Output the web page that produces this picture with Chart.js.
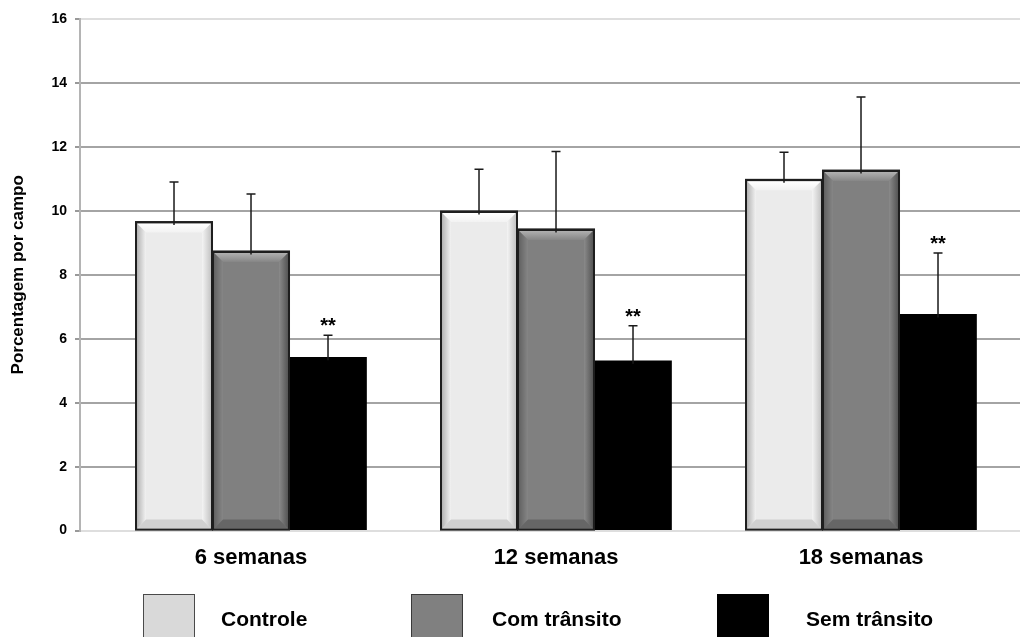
<!DOCTYPE html>
<html>
<head>
<meta charset="utf-8">
<script src="https://cdn.jsdelivr.net/npm/chart.js@4"></script>
<style>
  html, body { margin: 0; padding: 0; background: #fff; }
  #wrap { width: 1020px; height: 637px; }
</style>
</head>
<body>
<div id="wrap"><canvas id="barChart"></canvas></div>
<script>
// data
const categories = ['6 semanas', '12 semanas', '18 semanas'];
const controle = [9.65, 9.98, 10.97];
const controleErr = [1.25, 1.32, 0.86];
const comTransito = [8.73, 9.42, 11.26];
const comTransitoErr = [1.80, 2.44, 2.30];
const semTransito = [5.42, 5.31, 6.76];
const semTransitoErr = [0.69, 1.10, 1.92];
const semTransitoSig = ['**', '**', '**'];
const yTicks = [0, 2, 4, 6, 8, 10, 12, 14, 16];

const FONT = 'Arial, "Liberation Sans", sans-serif';

// bevel shades per series: [top, leftOuter, leftInner, rightInner, rightOuter, bottom]
const bevels = [
  ['#ffffff', '#b4b4b4', '#f2f2f2', '#f4f4f4', '#c4c4c4', '#d0d0d0'],
  ['#b0b0b0', '#626262', '#868686', '#8a8a8a', '#555555', '#666666'],
  null
];

const toPoints = arr => arr.map((v, i) => ({ x: i + 1, y: v }));

const bevelPlugin = {
  id: 'bevelPlugin',
  afterDatasetsDraw(chart) {
    const ctx = chart.ctx;
    chart.data.datasets.forEach((ds, di) => {
      const shade = bevels[di];
      if (!shade) return;
      chart.getDatasetMeta(di).data.forEach(bar => {
        const p = bar.getProps(['x', 'y', 'base', 'width'], true);
        const x0 = p.x - p.width / 2 + 1.5, x1 = p.x + p.width / 2 - 1.5;
        const top = p.y + 1.5, bot = p.base - 1;
        const b = 9;
        ctx.save();
        // top
        let g = ctx.createLinearGradient(0, top, 0, top + b);
        g.addColorStop(0, shade[0]); g.addColorStop(1, shade[2]);
        ctx.fillStyle = g;
        ctx.beginPath();
        ctx.moveTo(x0, top); ctx.lineTo(x1, top); ctx.lineTo(x1 - b, top + b); ctx.lineTo(x0 + b, top + b);
        ctx.closePath(); ctx.fill();
        // left
        g = ctx.createLinearGradient(x0, 0, x0 + b, 0);
        g.addColorStop(0, shade[1]); g.addColorStop(1, shade[2]);
        ctx.fillStyle = g;
        ctx.beginPath();
        ctx.moveTo(x0, top); ctx.lineTo(x0 + b, top + b); ctx.lineTo(x0 + b, bot - b); ctx.lineTo(x0, bot);
        ctx.closePath(); ctx.fill();
        // right
        g = ctx.createLinearGradient(x1 - b, 0, x1, 0);
        g.addColorStop(0, shade[3]); g.addColorStop(1, shade[4]);
        ctx.fillStyle = g;
        ctx.beginPath();
        ctx.moveTo(x1, top); ctx.lineTo(x1 - b, top + b); ctx.lineTo(x1 - b, bot - b); ctx.lineTo(x1, bot);
        ctx.closePath(); ctx.fill();
        // bottom
        ctx.fillStyle = shade[5];
        ctx.beginPath();
        ctx.moveTo(x0, bot); ctx.lineTo(x0 + b, bot - b); ctx.lineTo(x1 - b, bot - b); ctx.lineTo(x1, bot);
        ctx.closePath(); ctx.fill();
        // border again on top of the bevel
        ctx.strokeStyle = '#1e1e1e';
        ctx.lineWidth = 2;
        ctx.strokeRect(p.x - p.width / 2 + 0.5, p.y, p.width - 1, p.base - p.y);
        ctx.restore();
      });
    });
  }
};

const errorBarPlugin = {
  id: 'errorBarPlugin',
  afterDatasetsDraw(chart) {
    const ctx = chart.ctx;
    const yScale = chart.scales.y;
    chart.data.datasets.forEach((ds, di) => {
      const meta = chart.getDatasetMeta(di);
      meta.data.forEach((bar, i) => {
        const p = bar.getProps(['x', 'y'], true);
        const val = ds.data[i].y;
        const yTop = yScale.getPixelForValue(val + ds.errors[i]);
        ctx.save();
        ctx.strokeStyle = '#1a1a1a';
        ctx.lineWidth = 1.5;
        ctx.beginPath();
        ctx.moveTo(p.x, p.y + 3);
        ctx.lineTo(p.x, yTop);
        ctx.moveTo(p.x - 4.5, yTop);
        ctx.lineTo(p.x + 4.5, yTop);
        ctx.stroke();
        if (ds.sig && ds.sig[i]) {
          ctx.fillStyle = '#000';
          ctx.font = 'bold 20px ' + FONT;
          ctx.textAlign = 'center';
          ctx.textBaseline = 'alphabetic';
          ctx.fillText(ds.sig[i], p.x, yTop - 3);
        }
        ctx.restore();
      });
    });
  }
};

const bottomLegend = {
  id: 'bottomLegend',
  afterDraw(chart) {
    const ctx = chart.ctx;
    const boxX = [143, 411, 717];
    const textX = [221, 492, 806];
    const boxFill = ['#d9d9d9', '#808080', '#000000'];
    const boxLine = ['#4a4a4a', '#3a3a3a', '#000000'];
    ctx.save();
    chart.data.datasets.forEach((ds, i) => {
      ctx.fillStyle = boxFill[i];
      ctx.fillRect(boxX[i], 594, 52, 50);
      ctx.strokeStyle = boxLine[i];
      ctx.lineWidth = 1;
      ctx.strokeRect(boxX[i] + 0.5, 594.5, 51, 50);
      ctx.fillStyle = '#000';
      ctx.font = 'bold 21px ' + FONT;
      ctx.textAlign = 'left';
      ctx.textBaseline = 'middle';
      ctx.fillText(ds.label, textX[i], 620);
    });
    ctx.restore();
  }
};

const ctx = document.getElementById('barChart').getContext('2d');
new Chart(ctx, {
  type: 'bar',
  data: {
    datasets: [
      {
        label: 'Controle',
        data: toPoints(controle),
        errors: controleErr,
        backgroundColor: '#ebebeb',
        borderColor: '#1e1e1e',
        borderWidth: 2
      },
      {
        label: 'Com trânsito',
        data: toPoints(comTransito),
        errors: comTransitoErr,
        backgroundColor: '#808080',
        borderColor: '#1e1e1e',
        borderWidth: 2
      },
      {
        label: 'Sem trânsito',
        data: toPoints(semTransito),
        errors: semTransitoErr,
        sig: semTransitoSig,
        backgroundColor: '#000000',
        borderColor: '#000000',
        borderWidth: 0
      }
    ]
  },
  options: {
    responsive: true,
    maintainAspectRatio: false,
    animation: false,
    barThickness: 77,
    layout: {
      padding: { top: 19, right: 0, bottom: 52, left: 0 }
    },
    plugins: {
      legend: { display: false },
      tooltip: { enabled: false }
    },
    scales: {
      x: {
        type: 'linear',
        offset: false,
        min: 0.4393,
        max: 3.5213,
        grid: { display: false, drawTicks: false, offset: false },
        border: { display: false },
        afterBuildTicks(scale) {
          scale.ticks = categories.map((c, i) => ({ value: i + 1 }));
        },
        ticks: {
          padding: 14,
          autoSkip: false,
          maxRotation: 0,
          color: '#000',
          font: { family: FONT, size: 22, weight: 'bold' },
          callback: value => categories[value - 1]
        }
      },
      y: {
        min: 0,
        max: 16,
        afterBuildTicks(scale) {
          scale.ticks = yTicks.map(v => ({ value: v }));
        },
        afterFit(scale) {
          scale.width = 80;
        },
        grid: {
          color: c => (c.tick && (c.tick.value === 0 || c.tick.value === 16)) ? '#dedede' : '#a4a4a4',
          lineWidth: 2,
          tickLength: 5,
          tickColor: '#999'
        },
        border: { color: '#b4b4b4', width: 2 },
        ticks: {
          padding: 8,
          color: '#000',
          font: { family: FONT, size: 14, weight: 'bold' }
        },
        title: {
          display: true,
          text: 'Porcentagem por campo',
          color: '#000',
          padding: { top: 8, bottom: 0 },
          font: { family: FONT, size: 17, weight: 'bold' }
        }
      }
    }
  },
  plugins: [bevelPlugin, errorBarPlugin, bottomLegend]
});
</script>
</body>
</html>
